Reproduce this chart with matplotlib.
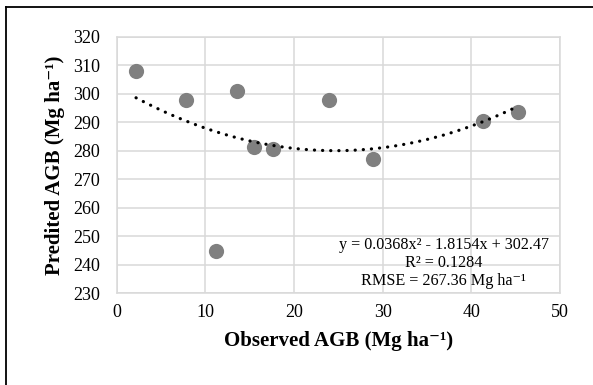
import numpy as np
import matplotlib
matplotlib.use("Agg")
import matplotlib.pyplot as plt
from matplotlib.lines import Line2D

# --------------------------------------------
# Data
# --------------------------------------------

observed = [2.2, 7.8, 11.2, 13.6, 15.5, 17.6, 24.0, 28.9, 41.3, 45.3]
predicted = [308.2, 298.0, 245.0, 301.0, 281.4, 280.6, 297.8, 277.1, 290.6, 293.6]

# polynomial trendline as printed on the chart
poly_coef = [0.0368, -1.8154, 302.47]
r_squared = 0.1284
rmse = 267.36

x_ticks = [0, 10, 20, 30, 40, 50]
y_ticks = [230, 240, 250, 260, 270, 280, 290, 300, 310, 320]

# --------------------------------------------
# Figure
# --------------------------------------------

plt.rcParams["font.family"] = ["Liberation Serif", "DejaVu Serif"]

fig = plt.figure(figsize=(5.93, 3.85), dpi=100)
ax = fig.add_axes([0.1965, 0.2382, 0.7479, 0.6657])

grid_col = "#d9d9d9"

ax.set_xlim(x_ticks[0], x_ticks[-1])
ax.set_ylim(y_ticks[0], y_ticks[-1])
ax.set_xticks(x_ticks)
ax.set_yticks(y_ticks)

ax.grid(True, color=grid_col, linewidth=1.1)
ax.set_axisbelow(True)

for s in ax.spines.values():
    s.set_color(grid_col)
    s.set_linewidth(1.1)

ax.tick_params(length=0, labelsize=13, colors="black")
ax.tick_params(axis="x", pad=8)
ax.tick_params(axis="y", pad=12)

# scatter points
ax.scatter(observed, predicted, s=120, color="#808080", zorder=3, linewidths=0)

# trendline
xs = np.linspace(min(observed), max(observed), 200)
ys = np.polyval(poly_coef, xs)
ax.plot(
    xs,
    ys,
    color="black",
    linewidth=2.3,
    linestyle=(0, (0.05, 2.5)),
    dash_capstyle="round",
    zorder=4
)

ax.set_xlabel("Observed AGB (Mg ha\u207b\u00b9)", fontsize=15, fontweight="bold", labelpad=7)
ax.set_ylabel("Predited AGB (Mg ha\u207b\u00b9)", fontsize=15, fontweight="bold", labelpad=6)

eq_text = (
    f"y = {poly_coef[0]}x\u00b2 - {abs(poly_coef[1])}x + {poly_coef[2]}\n"
    f"R\u00b2 = {r_squared}\n"
    f"RMSE = {rmse} Mg ha\u207b\u00b9"
)
ax.text(
    36.9,
    240.6,
    eq_text,
    ha="center",
    va="center",
    fontsize=11.6,
    linespacing=1.15,
    zorder=5
)

# chart border (left and top only visible)
fig.add_artist(Line2D([6 / 593, 6 / 593], [0, 1 - 7 / 385], color="black", linewidth=1.3))
fig.add_artist(Line2D([6 / 593, 1], [1 - 7 / 385, 1 - 7 / 385], color="black", linewidth=1.3))

plt.savefig("out.png", dpi=100)
plt.close()
